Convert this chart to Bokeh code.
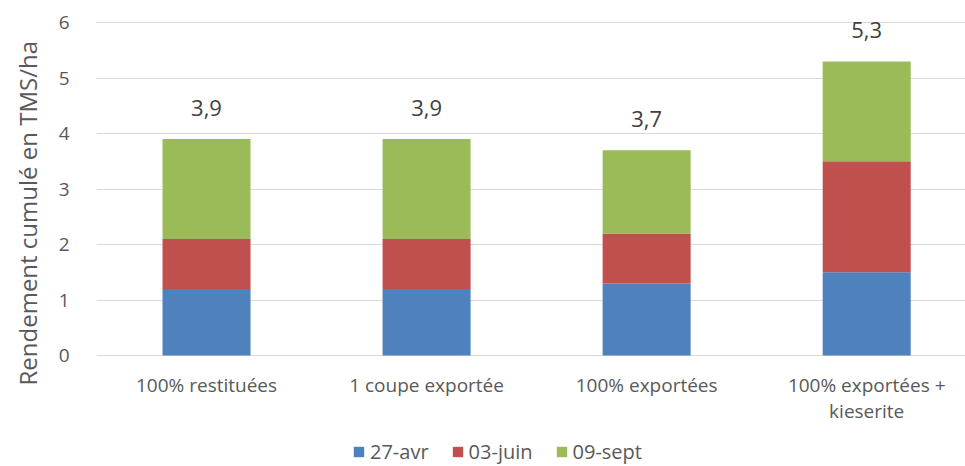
from bokeh.plotting import figure
from bokeh.models import ColumnDataSource, Range1d, FixedTicker, Legend, LegendItem, Title
from bokeh.core.properties import value
from bokeh.embed import file_html
from bokeh.resources import INLINE

categories = ["100% restituées", "1 coupe exportée", "100% exportées", "100% exportées +\nkieserite"]
series_names = ["27-avr", "03-juin", "09-sept"]
avr = [1.2, 1.2, 1.3, 1.5]
juin = [0.9, 0.9, 0.9, 2.0]
sept = [1.8, 1.8, 1.5, 1.8]
totals_labels = ["3,9", "3,9", "3,7", "5,3"]
y_ticks = [0, 1, 2, 3, 4, 5, 6]
y_title = "Rendement cumulé en TMS/ha"
colors = ["#4F81BD", "#C0504D", "#9BBB59"]

FONT = "Open Sans"
GREY = "#595959"

xs = list(range(1, len(categories) + 1))
totals = [a + b + c for a, b, c in zip(avr, juin, sept)]
src = ColumnDataSource(dict(x=xs, avr=avr, juin=juin, sept=sept, tot=totals, lab=totals_labels,
                            cat=categories, base=[0] * len(xs)))

# frame extends to the bottom of the picture so that category labels and legend can sit below y=0
p = figure(width=965, height=466, output_backend="svg", toolbar_location=None,
           x_range=Range1d(0.5, 4.449), y_range=Range1d(-2.0, 6.2),
           min_border_left=95, min_border_right=0, min_border_top=11, min_border_bottom=0)
p.outline_line_color = None
p.background_fill_color = "white"
p.xaxis.visible = False

rs = p.vbar_stack(["avr", "juin", "sept"], x="x", width=0.4, source=src,
                  color=colors, line_color=None)

# total labels above the stacks
p.text(x="x", y="tot", text="lab", source=src, y_offset=-31,
       text_align="center", text_baseline="middle",
       text_font=value(FONT), text_font_size="22px", text_color="#404040")

# category labels under the bars
p.text(x="x", y="base", text="cat", source=src, y_offset=16,
       text_align="center", text_baseline="top", text_line_height=1.0,
       text_font=value(FONT), text_font_size="19px", text_color=GREY)

p.yaxis.ticker = FixedTicker(ticks=y_ticks)
p.yaxis.axis_line_color = None
p.yaxis.major_tick_line_color = None
p.yaxis.minor_tick_line_color = None
p.yaxis.major_label_text_font = FONT
p.yaxis.major_label_text_font_size = "19px"
p.yaxis.major_label_text_color = GREY
p.yaxis.major_label_standoff = 21

# vertical axis title, starting level with the category labels like the reference
p.add_layout(Title(text=y_title, align="left", offset=81, vertical_align="top",
                   text_font=FONT, text_font_size="24px", text_font_style="normal",
                   text_color=GREY, standoff=20), "left")

p.xgrid.grid_line_color = None
p.ygrid.grid_line_color = "#D9D9D9"
p.ygrid.grid_line_width = 1.2

legend = Legend(items=[LegendItem(label=n, renderers=[r]) for n, r in zip(series_names, rs)],
                orientation="horizontal", location=(256, 1),
                label_text_font=FONT, label_text_font_size="20px", label_text_color=GREY,
                glyph_width=13, glyph_height=13, label_standoff=5, spacing=22,
                padding=0, margin=0, border_line_color=None, background_fill_alpha=0)
p.add_layout(legend)

open("out.html", "w").write(file_html(p, INLINE))
